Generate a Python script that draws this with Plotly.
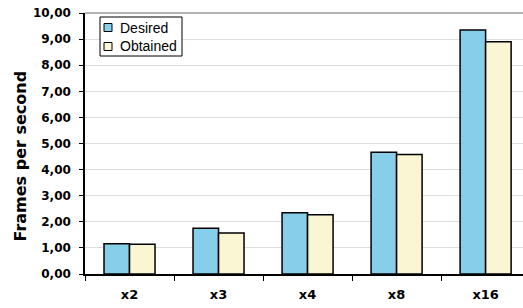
import plotly.graph_objects as go

categories = ["x2", "x3", "x4", "x8", "x16"]
desired = [1.16, 1.75, 2.35, 4.66, 9.35]
obtained = [1.14, 1.57, 2.27, 4.58, 8.90]
series_names = ["Desired", "Obtained"]
series_colors = ["#87CEEB", "#FAF5D2"]

W, H = 523, 308
# plot area in page pixels: x 85..523, y 13..274
L, R, T, B = 85, 0, 13, 308 - 274
PW, PH = W - L - R, H - T - B


def px(xp):
    return (xp - 85) / PW


def py(yp):
    return (274 - yp) / PH


fig = go.Figure()
for name, vals, col in zip(series_names, [desired, obtained], series_colors):
    fig.add_trace(go.Bar(name=name, x=categories, y=vals,
                         marker=dict(color=col, line=dict(color="#000000", width=1.5))))

fig.update_layout(
    width=W, height=H,
    margin=dict(l=L, r=R, t=T, b=B, autoexpand=False),
    paper_bgcolor="white", plot_bgcolor="white",
    barmode="group", bargap=0.427, bargroupgap=0,
    separators=",.",
    font=dict(family="DejaVu Sans", color="#000000"),
    showlegend=False,
)
fig.update_xaxes(
    type="category", range=[-0.5, 4.42], automargin=False,
    showline=True, linecolor="#000000", linewidth=1.5,
    ticks="outside", tickson="boundaries", ticklen=5, tickcolor="#000000",
    tickfont=dict(size=13, family="DejaVu Sans", weight="bold"),
    ticklabelstandoff=8,
    showgrid=False,
)
fig.update_yaxes(
    range=[0, 10], dtick=1, tickformat=".2f", automargin=False,
    showline=True, linecolor="#000000", linewidth=1.5,
    ticks="outside", ticklen=4, tickcolor="#000000",
    tickfont=dict(size=12, family="DejaVu Sans", weight="bold"),
    ticklabelstandoff=6, ticklabeloverflow="allow",
    gridcolor="#dddddd", gridwidth=1,
    zeroline=False,
)
# top border of plot area
fig.add_shape(type="line", xref="paper", yref="paper", x0=0, x1=1, y0=1, y1=1,
              line=dict(color="#999999", width=1.5))

# y-axis title
fig.add_annotation(text="<b>Frames per second</b>", xref="paper", yref="paper",
                   x=px(19.5), y=py(156), textangle=-90, showarrow=False,
                   xanchor="center", yanchor="middle",
                   font=dict(size=16, family="DejaVu Sans"))

# legend box
fig.add_shape(type="rect", xref="paper", yref="paper",
              x0=px(100), x1=px(182), y0=py(56), y1=py(17),
              line=dict(color="#000000", width=1), fillcolor="white")
row_centers = [27.5, 46.5]
for name, col, yc in zip(series_names, series_colors, row_centers):
    fig.add_shape(type="rect", xref="paper", yref="paper",
                  x0=px(104), x1=px(112), y0=py(yc + 4), y1=py(yc - 4),
                  line=dict(color="#000000", width=1), fillcolor=col)
    fig.add_annotation(text=name, xref="paper", yref="paper",
                       x=px(118), y=py(yc), showarrow=False,
                       xanchor="left", yanchor="middle",
                       font=dict(size=14, family="Liberation Sans"))

fig.write_html("out.html", config={"displayModeBar": False},
               post_script="document.body.style.margin='0';")
